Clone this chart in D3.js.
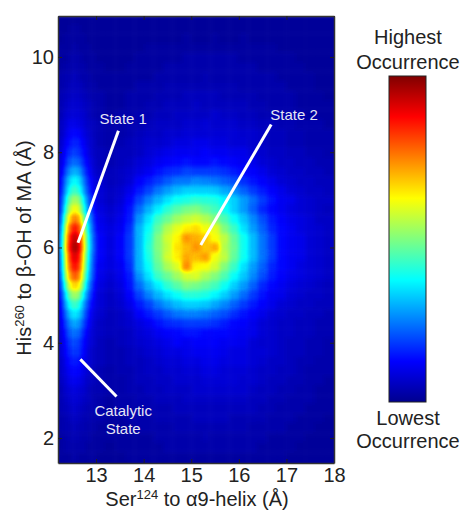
<!DOCTYPE html>
<html>
<head>
<meta charset="utf-8">
<script src="https://cdnjs.cloudflare.com/ajax/libs/d3/7.8.5/d3.min.js"></script>
<style>
body { margin: 0; background: #fff; }
svg { display: block; }
text { font-family: "Liberation Sans", Arial, sans-serif; }
</style>
</head>
<body>
<svg id="chart" width="462" height="510"></svg>
<script>
// bin edges, finer in x where the State 1 ridge sits
const xEdges = [12.1, 12.3, 12.4, 12.5, 12.6, 12.7, 12.8, 12.9, 13.0, 13.2, 13.4, 13.6, 13.8, 14.0, 14.2, 14.4, 14.6, 14.8, 15.0, 15.2, 15.4, 15.6, 15.8, 16.0, 16.2, 16.4, 16.6, 16.8, 17.0, 17.2, 17.4, 17.6, 17.8, 18.1];
const yCentres = [10.8, 10.6, 10.4, 10.2, 10, 9.8, 9.6, 9.4, 9.2, 9, 8.8, 8.6, 8.4, 8.2, 8, 7.8, 7.6, 7.4, 7.2, 7, 6.8, 6.6, 6.4, 6.2, 6, 5.8, 5.6, 5.4, 5.2, 5, 4.8, 4.6, 4.4, 4.2, 4, 3.8, 3.6, 3.4, 3.2, 3, 2.8, 2.6, 2.4, 2.2, 2, 1.8, 1.6, 1.4];

// occurrence, 0 (lowest) to 100 (highest)
const occurrence = [
  [1,1,1,1,1,1,1,1,1, 1,1,1,1,1,1,1,1,1,1,1,1,1,1,1,1,1,1,1,1,1,1,1,1],
  [1,1,2,2,2,1,1,1,1, 1,1,1,1,1,1,1,1,1,1,1,1,1,1,1,1,1,1,1,1,1,1,1,1],
  [1,2,2,2,2,2,1,1,1, 1,1,1,1,1,1,1,1,2,1,1,2,1,1,2,1,1,1,1,1,1,1,1,1],
  [2,2,2,3,2,2,2,1,1, 1,1,1,1,2,2,2,2,2,2,2,2,2,2,2,2,2,2,1,1,1,1,1,1],
  [2,2,3,3,3,2,2,2,1, 1,1,1,2,2,2,2,2,3,3,3,3,3,3,2,2,2,2,2,2,1,1,1,1],
  [2,3,3,4,3,3,2,2,2, 1,1,2,2,2,2,3,3,3,3,3,3,3,3,3,3,2,2,2,2,2,1,1,1],
  [3,4,4,5,4,3,3,2,2, 2,2,2,2,2,3,3,3,3,3,4,3,3,3,3,3,3,3,2,2,2,2,1,1],
  [3,4,5,5,5,4,3,3,2, 2,2,2,3,3,3,4,4,4,4,4,4,4,4,3,3,3,3,3,2,2,2,1,1],
  [4,5,6,6,6,5,4,3,3, 2,2,3,3,3,4,4,4,5,5,5,5,4,4,4,4,3,3,3,3,2,2,2,1],
  [4,6,7,7,7,6,5,4,3, 2,2,3,3,4,4,5,5,5,6,5,5,5,5,5,4,4,3,3,3,2,2,2,2],
  [4,7,8,8,8,7,5,4,3, 2,3,3,4,4,5,5,6,6,6,6,7,6,6,5,5,4,4,3,3,3,2,2,2],
  [5,8,10,10,9,8,6,5,4, 3,3,4,4,5,6,6,6,7,7,8,7,7,7,6,6,5,5,4,4,3,3,3,2],
  [5,9,12,13,12,9,7,5,4, 3,3,4,5,6,6,7,7,8,8,8,8,8,8,7,7,6,5,5,4,4,3,3,3],
  [6,11,14,16,15,11,8,6,4, 3,4,5,6,7,7,8,9,9,10,10,9,9,8,8,7,6,5,5,4,4,3,3,3],
  [7,13,17,19,17,13,9,6,5, 4,5,5,6,8,9,10,11,11,11,12,11,11,10,10,8,7,6,6,5,5,4,4,3],
  [8,15,21,23,21,15,11,7,5, 4,5,6,8,9,11,12,13,14,13,13,14,13,12,11,10,8,7,6,6,5,5,4,4],
  [9,19,27,30,28,19,13,8,6, 5,6,7,9,11,14,16,17,19,18,18,18,17,15,13,12,10,8,7,6,6,5,5,4],
  [11,24,34,38,35,24,15,10,7, 5,6,8,12,15,18,21,24,24,26,25,24,22,20,17,14,12,10,8,7,6,6,5,5],
  [12,27,40,44,40,28,17,11,8, 6,7,10,15,19,24,28,31,33,33,33,32,29,26,22,18,15,12,10,8,7,6,6,5],
  [14,33,49,54,50,35,21,13,8, 6,8,12,19,25,30,35,39,40,42,41,40,37,33,28,23,18,14,11,10,8,7,6,6],
  [15,39,57,63,58,40,24,14,9, 7,9,14,23,30,36,42,46,49,50,47,44,39,33,28,22,16,13,11,9,8,7,6,5],
  [18,47,68,76,70,49,29,17,10, 8,10,15,27,35,43,48,53,56,58,55,50,45,38,32,26,20,15,12,10,9,8,6,6],
  [21,54,78,87,80,56,33,19,11, 9,11,17,30,38,47,55,60,64,66,61,60,50,43,35,28,22,16,13,11,9,8,7,6],
  [23,59,86,95,87,61,36,21,12, 9,12,18,30,40,50,58,63,73,70,68,62,56,47,39,31,24,18,13,11,10,8,7,6],
  [24,61,88,98,90,63,37,22,12, 9,12,18,30,41,50,57,65,69,73,68,71,55,48,39,31,24,18,13,11,10,8,7,6],
  [22,57,83,92,85,59,35,20,12, 9,12,18,30,40,49,58,64,71,69,72,61,56,47,39,31,24,18,13,11,10,8,7,6],
  [21,55,79,88,81,56,33,19,11, 9,11,17,30,38,47,54,59,74,63,62,58,50,43,35,28,22,16,13,11,9,8,7,6],
  [19,50,72,80,74,51,30,18,10, 8,10,15,27,35,43,48,53,58,59,54,50,45,38,32,26,20,15,12,10,9,8,7,6],
  [16,42,61,68,63,44,26,15,9, 7,9,14,23,30,36,42,46,50,49,47,44,39,33,28,22,16,13,11,9,8,7,6,5],
  [13,33,49,54,50,35,21,13,8, 6,8,12,19,25,30,35,38,41,41,40,37,33,28,23,18,14,11,10,8,7,6,6,5],
  [11,27,40,44,40,28,17,11,8, 6,7,10,15,19,24,28,31,33,33,32,29,26,22,18,15,12,10,8,7,6,6,5,5],
  [10,22,32,36,33,23,14,9,7, 5,6,8,12,15,18,21,24,25,25,24,22,20,17,14,12,10,8,7,6,6,5,5,4],
  [9,18,26,29,27,19,12,8,6, 5,6,7,9,11,14,16,17,18,18,18,17,15,13,12,10,8,7,6,6,5,5,4,4],
  [8,15,22,24,22,15,10,7,6, 5,5,6,8,9,11,12,13,14,14,13,13,13,12,11,10,8,7,6,6,5,5,4,4],
  [7,13,18,20,18,13,9,7,5, 4,5,6,7,8,9,10,12,11,12,12,12,11,11,10,8,7,7,6,5,5,4,4,3],
  [7,12,16,18,17,12,8,6,5, 4,4,5,6,7,8,9,9,10,11,11,11,10,9,9,8,8,7,6,5,5,4,4,3],
  [6,10,14,15,14,10,8,6,5, 4,4,5,5,6,7,8,8,9,9,10,10,9,9,9,8,7,6,6,5,4,4,3,3],
  [6,9,12,13,12,9,7,5,4, 3,4,4,5,6,6,7,7,8,8,9,9,8,8,8,7,6,6,5,5,4,3,3,3],
  [5,8,10,11,10,8,6,5,4, 3,3,4,5,5,6,6,7,7,7,8,8,8,8,7,7,6,5,5,4,4,3,3,2],
  [4,7,8,9,8,7,5,4,4, 3,3,4,4,5,5,6,6,6,7,7,7,7,7,7,6,5,5,4,4,3,3,2,2],
  [4,6,7,8,7,6,5,4,3, 2,3,3,4,4,5,5,5,6,6,6,6,6,6,6,5,5,4,4,3,3,3,2,2],
  [4,5,6,7,6,5,4,4,3, 2,3,3,3,4,4,4,5,5,5,5,5,5,5,5,5,4,4,3,3,3,2,2,2],
  [3,4,5,6,5,4,4,3,3, 2,2,3,3,3,4,4,4,4,5,5,5,5,4,4,4,4,3,3,3,2,2,2,1],
  [3,4,4,5,4,4,3,3,2, 2,2,2,3,3,3,3,4,4,4,4,4,4,4,4,3,3,3,3,2,2,2,1,1],
  [2,3,4,4,4,3,3,2,2, 2,2,2,2,2,3,3,3,3,3,4,3,3,3,3,3,3,2,2,2,2,1,1,1],
  [2,3,3,3,3,3,2,2,2, 1,2,2,2,2,2,3,3,3,3,3,3,3,3,3,3,2,2,2,2,1,1,1,1],
  [2,2,2,3,2,2,2,2,1, 1,1,2,2,2,2,2,2,2,2,2,2,2,2,2,2,2,2,2,1,1,1,1,1],
  [1,2,2,2,2,2,1,1,1, 1,1,1,1,1,1,1,1,2,1,2,2,2,1,1,1,1,1,1,1,1,1,1,1]
];

const xTicks = [13, 14, 15, 16, 17, 18];
const yTicks = [2, 4, 6, 8, 10];

// jet colour map
const jetStops = [0, 12.5, 37.5, 62.5, 87.5, 100];
const jetColours = ["#00008f", "#0000ff", "#00ffff", "#ffff00", "#ff0000", "#800000"];

const annotations = [
  {label: ["State 1"], tx: 13.57, ty: 8.59, from: [13.47, 8.45], to: [12.62, 6.1]},
  {label: ["State 2"], tx: 17.16, ty: 8.68, from: [16.68, 8.58], to: [15.2, 6.05]},
  {label: ["Catalytic", "State"], tx: 13.57, ty: 2.46, from: [12.67, 3.65], to: [13.43, 2.87]}
];

const svg = d3.select("#chart");
const plot = {left: 58, right: 334, top: 16, bottom: 463};

const x = d3.scaleLinear().domain([12.2, 18]).range([plot.left, plot.right]);
const y = d3.scaleLinear().domain([10.86, 1.475]).range([plot.top, plot.bottom]);
const jet = d3.scaleLinear().domain(jetStops).range(jetColours).clamp(true);
const grey = d3.scaleLinear().domain([0, 100]).range([0, 255]);

const defs = svg.append("defs");
defs.append("clipPath").attr("id", "plot-clip").append("rect")
  .attr("x", plot.left).attr("y", plot.top)
  .attr("width", plot.right - plot.left).attr("height", plot.bottom - plot.top);

// cells are drawn as grey levels, smoothed, then recoloured so the blur stays on the jet ramp
const tableLevels = d3.range(0, 101);
const filter = defs.append("filter").attr("id", "heat")
  .attr("filterUnits", "userSpaceOnUse")
  .attr("x", 0).attr("y", 0).attr("width", 462).attr("height", 510)
  .attr("color-interpolation-filters", "sRGB");
filter.append("feGaussianBlur").attr("stdDeviation", 2.2);
const transfer = filter.append("feComponentTransfer");
["r", "g", "b"].forEach(ch => {
  transfer.append("feFunc" + ch.toUpperCase())
    .attr("type", "table")
    .attr("tableValues", tableLevels.map(v => (d3.rgb(jet(v))[ch] / 255).toFixed(3)).join(" "));
});

const cells = [];
occurrence.forEach((row, j) => {
  row.forEach((v, i) => cells.push({i, j, v}));
});

const heat = svg.append("g").attr("clip-path", "url(#plot-clip)")
  .append("g").attr("filter", "url(#heat)");
heat.selectAll("rect").data(cells).enter().append("rect")
  .attr("x", d => x(xEdges[d.i]))
  .attr("y", d => y(yCentres[d.j] + 0.1))
  .attr("width", d => x(xEdges[d.i + 1]) - x(xEdges[d.i]) + 0.5)
  .attr("height", d => y(yCentres[d.j] - 0.1) - y(yCentres[d.j] + 0.1) + 0.5)
  .attr("fill", d => { const g = grey(d.v); return d3.rgb(g, g, g); });

// axes
const tickColour = "#222";
function styleAxis(g) {
  g.selectAll(".domain").attr("stroke", "#333").attr("stroke-width", 1.5);
  g.selectAll(".tick line").attr("stroke", tickColour);
  g.selectAll("text").attr("font-size", 20).attr("fill", "#222");
}

svg.append("g").attr("transform", `translate(0,${plot.bottom})`)
  .call(d3.axisBottom(x).tickValues(xTicks).tickSizeInner(-4).tickSizeOuter(0).tickPadding(5).tickFormat(d3.format("d")))
  .call(styleAxis);
svg.append("g").attr("transform", `translate(0,${plot.top})`)
  .call(d3.axisTop(x).tickValues(xTicks).tickSizeInner(-4).tickSizeOuter(0).tickFormat(""))
  .call(styleAxis);
svg.append("g").attr("transform", `translate(${plot.left},0)`)
  .call(d3.axisLeft(y).tickValues(yTicks).tickSizeInner(-4).tickSizeOuter(0).tickPadding(4).tickFormat(d3.format("d")))
  .call(styleAxis);
svg.append("g").attr("transform", `translate(${plot.right},0)`)
  .call(d3.axisRight(y).tickValues(yTicks).tickSizeInner(-4).tickSizeOuter(0).tickFormat(""))
  .call(styleAxis);

// axis titles with superscripts
function addTitle(sel, head, sup, tail) {
  sel.append("tspan").text(head);
  sel.append("tspan").attr("font-size", 13).attr("dy", -7).text(sup);
  sel.append("tspan").attr("dy", 7).text(tail);
}
svg.append("text")
  .attr("x", 197).attr("y", 506).attr("text-anchor", "middle")
  .attr("font-size", 20).attr("fill", "#222")
  .call(addTitle, "Ser", "124", " to α9-helix (Å)");
svg.append("text")
  .attr("transform", "translate(31,248) rotate(-90)").attr("text-anchor", "middle")
  .attr("font-size", 20).attr("fill", "#222")
  .call(addTitle, "His", "260", " to β-OH of MA (Å)");

// annotations
annotations.forEach(a => {
  svg.append("line")
    .attr("x1", x(a.from[0])).attr("y1", y(a.from[1]))
    .attr("x2", x(a.to[0])).attr("y2", y(a.to[1]))
    .attr("stroke", "#fff").attr("stroke-width", 3);
  a.label.forEach((t, k) => {
    svg.append("text")
      .attr("x", x(a.tx)).attr("y", y(a.ty) + k * 18)
      .attr("text-anchor", "middle")
      .attr("font-size", 15).attr("fill", "#e6e6f5")
      .text(t);
  });
});

// colour bar
const barY = d3.scaleLinear().domain([100, 0]).range([76, 402]);
const gradient = defs.append("linearGradient").attr("id", "jet-bar")
  .attr("x1", 0).attr("y1", 1).attr("x2", 0).attr("y2", 0);
gradient.selectAll("stop").data(jetStops).enter().append("stop")
  .attr("offset", d => d / 100)
  .attr("stop-color", (d, i) => jetColours[i]);
svg.append("rect")
  .attr("x", 389).attr("y", barY(100))
  .attr("width", 37).attr("height", barY(0) - barY(100))
  .attr("fill", "url(#jet-bar)").attr("stroke", "#222").attr("stroke-width", 1);

const barLabels = [["Highest", 44], ["Occurrence", 69], ["Lowest", 425], ["Occurrence", 448]];
svg.selectAll(".bar-label").data(barLabels).enter().append("text")
  .attr("class", "bar-label")
  .attr("x", 408).attr("y", d => d[1]).attr("text-anchor", "middle")
  .attr("font-size", 20).attr("fill", "#222")
  .text(d => d[0]);
</script>
</body>
</html>
